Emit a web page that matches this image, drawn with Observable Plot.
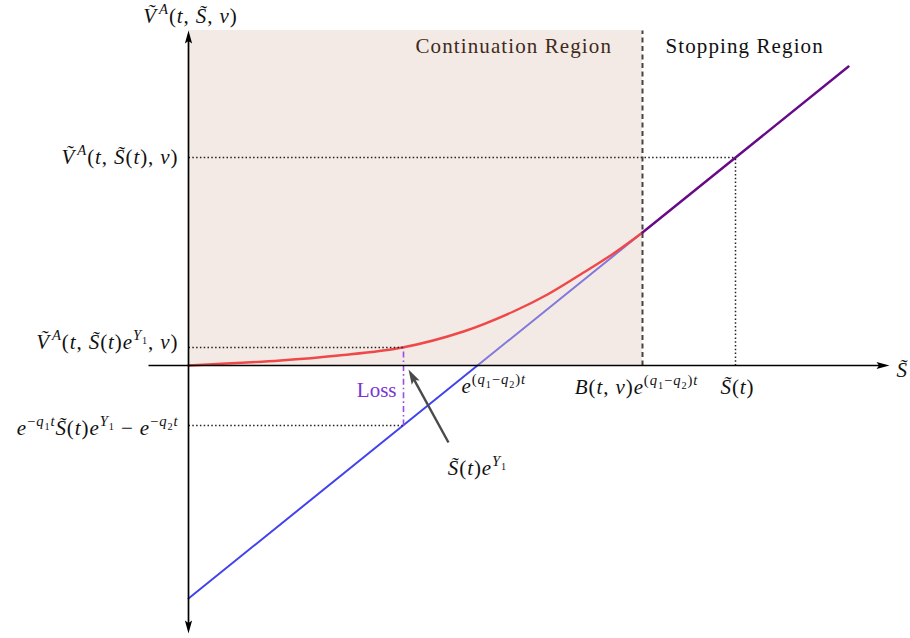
<!DOCTYPE html>
<html><head><meta charset="utf-8">
<script src="https://cdn.jsdelivr.net/npm/d3@7"></script>
<script src="https://cdn.jsdelivr.net/npm/@observablehq/plot@0.6"></script>
<style>body{margin:0;background:#fff}</style>
</head><body><div id="chart"></div>
<script>
// ---- data (abstract units: 1 unit = 100px) ----
const boundaryX = 4.54, boundaryY = 1.33;   // B(t,v)e^{(q1-q2)t}
const regionTop = 3.35;
const stockX = 5.47, stockV = 2.08;          // S~(t), V~A(t,S~(t),v)
const jumpX = 2.15, jumpV = 0.18, lossLow = -0.60;
const blueX = [0, 4.54];
const blueY = [-2.33, 1.33];
const purpleX = [4.54, 6.60];
const purpleY = [1.33, 2.99];
const redX = [0, 0.92, 1.5, 2.14, 2.75, 3.25, 3.59, 3.92, 4.25, 4.54];
const redY = [0, 0.05, 0.10, 0.18, 0.34, 0.54, 0.71, 0.91, 1.12, 1.33];
const yAxisEnds = [-2.68, 3.35];
const xAxisEnds = [-0.40, 7.01];
const annTail = [2.60, -0.77];
const annTip = [2.20, -0.04];

const labelText = [
  "V\u0303^{A}(t, S\u0303, v)",
  "V\u0303^{A}(t, S\u0303(t), v)",
  "V\u0303^{A}(t, S\u0303(t)e^{Y_{1}}, v)",
  "e^{−q_{1}t}S\u0303(t)e^{Y_{1}} − e^{−q_{2}t}",
  "e^{(q_{1}−q_{2})t}",
  "B(t, v)e^{(q_{1}−q_{2})t}",
  "S\u0303(t)",
  "S\u0303",
  "S\u0303(t)e^{Y_{1}}"
];
const labelX = [0.02, -0.10, -0.10, -0.10, 2.73, 4.48, 5.49, 7.08, 2.89];
const labelY = [3.49, 2.08, 0.23, -0.63, -0.21, -0.22, -0.22, -0.05, -1.03];
const labelAnchor = ["middle", "end", "end", "end", "start", "middle", "middle", "start", "middle"];

const regionText = ["Continuation Region", "Stopping Region"];
const regionTextX = [2.27, 4.77];
const regionTextY = [3.19, 3.19];

// ---- derived tables ----
const red = redX.map((x, i) => ({x, y: redY[i]}));
const blue = blueX.map((x, i) => ({x, y: blueY[i]}));
const purple = purpleX.map((x, i) => ({x, y: purpleY[i]}));
const labels = labelText.map((t, i) => ({t, x: labelX[i], y: labelY[i], a: labelAnchor[i]}));
const regions = regionText.map((t, i) => ({t, x: regionTextX[i], y: regionTextY[i]}));

const dotted = [
  {x1: 0, y1: jumpV, x2: jumpX, y2: jumpV},
  {x1: 0, y1: lossLow, x2: jumpX, y2: lossLow},
  {x1: 0, y1: stockV, x2: stockX, y2: stockV},
  {x1: stockX, y1: 0, x2: stockX, y2: stockV}
];

const headLen = 0.09;
const axes = [
  {x1: 0, y1: yAxisEnds[0] + headLen, x2: 0, y2: yAxisEnds[1] - headLen},
  {x1: xAxisEnds[0], y1: 0, x2: xAxisEnds[1] - headLen, y2: 0}
];
const heads = [
  {x: 0, y: yAxisEnds[1], r: 0},
  {x: 0, y: yAxisEnds[0], r: 180},
  {x: xAxisEnds[1], y: 0, r: 90}
];
const annAngle = Math.atan2(annTip[0] - annTail[0], annTip[1] - annTail[1]) * 180 / Math.PI;
const annFrac = 0.93;
const annLine = [{x1: annTail[0], y1: annTail[1],
  x2: annTail[0] + (annTip[0] - annTail[0]) * annFrac,
  y2: annTail[1] + (annTip[1] - annTail[1]) * annFrac}];

const arrowSym = {draw(ctx) { ctx.moveTo(0, 0); ctx.lineTo(3.6, 13); ctx.lineTo(0, 10.5); ctx.lineTo(-3.6, 13); ctx.closePath(); }};
const annSym = {draw(ctx) { ctx.moveTo(0, 0); ctx.lineTo(4.5, 15); ctx.lineTo(0, 12); ctx.lineTo(-4.5, 15); ctx.closePath(); }};

const serif = "'Liberation Serif', 'DejaVu Serif', serif";
const fs = 21;

const svg = Plot.plot({
  width: 910, height: 638,
  margin: 0,
  x: {domain: [-1.88, 7.22], axis: null},
  y: {domain: [-2.73, 3.65], axis: null},
  style: {background: "#fff"},
  marks: [
    Plot.line(blue, {x: "x", y: "y", stroke: "#4343ee", strokeWidth: 2}),
    Plot.rect([{x1: 0, x2: boundaryX, y1: 0, y2: regionTop}], {x1: "x1", x2: "x2", y1: "y1", y2: "y2", fill: "#e1cabe", fillOpacity: 0.4}),
    Plot.line(red, {x: "x", y: "y", stroke: "#f04848", strokeWidth: 2.4, curve: "catmull-rom"}),
    Plot.line(purple, {x: "x", y: "y", stroke: "#680a88", strokeWidth: 2.4}),
    Plot.link(dotted, {x1: "x1", y1: "y1", x2: "x2", y2: "y2", stroke: "#222", strokeWidth: 1.5, strokeDasharray: "1.5,2.3"}),
    Plot.link([{x1: jumpX, y1: lossLow, x2: jumpX, y2: jumpV}], {x1: "x1", y1: "y1", x2: "x2", y2: "y2", stroke: "#9b4be8", strokeWidth: 1.6, strokeDasharray: "6,3,1.6,3"}),
    Plot.link([{x1: boundaryX, y1: 0, x2: boundaryX, y2: regionTop}], {x1: "x1", y1: "y1", x2: "x2", y2: "y2", stroke: "#444", strokeWidth: 2, strokeDasharray: "5,3.5"}),
    Plot.link(axes, {x1: "x1", y1: "y1", x2: "x2", y2: "y2", stroke: "#000", strokeWidth: 1.7}),
    Plot.dot(heads, {x: "x", y: "y", rotate: "r", symbol: arrowSym, fill: "#000", stroke: "none"}),
    Plot.link(annLine, {x1: "x1", y1: "y1", x2: "x2", y2: "y2", stroke: "#4a4a4a", strokeWidth: 2.4}),
    Plot.dot([{x: annTip[0], y: annTip[1]}], {x: "x", y: "y", rotate: annAngle, symbol: annSym, fill: "#4a4a4a", stroke: "none"}),
    ...["start", "middle", "end"].map(a => Plot.text(labels.filter(d => d.a === a), {
      x: "x", y: "y", text: "t", textAnchor: a, lineAnchor: "middle",
      fontFamily: serif, fontSize: fs, fill: "#111"
    })),
    Plot.text([{t: "Loss", x: 2.08, y: -0.25}], {x: "x", y: "y", text: "t", textAnchor: "end", lineAnchor: "middle", fontFamily: serif, fontSize: fs, fill: "#7a35d6"}),
    Plot.text(regions.slice(0, 1), {x: "x", y: "y", text: "t", textAnchor: "start", lineAnchor: "middle", fontFamily: serif, fontSize: fs, fill: "#3f2a1c"}),
    Plot.text(regions.slice(1), {x: "x", y: "y", text: "t", textAnchor: "start", lineAnchor: "middle", fontFamily: serif, fontSize: fs, fill: "#111"})
  ]
});

// ---- math markup -> tspans (super/subscripts, italic letters) ----
function buildMath(el, str, base) {
  const segs = [];
  function parse(i, shift, size, inBrace) {
    while (i < str.length) {
      const c = str[i];
      if (c === "}" && inBrace) return i + 1;
      if ((c === "^" || c === "_") && str[i + 1] === "{") {
        const ns = Math.max(size * 0.7, 10);
        const nshift = c === "^" ? shift + size * 0.42 : shift - size * 0.22;
        const prev = segs[segs.length - 1];
        const startIdx = segs.length;
        i = parse(i + 2, nshift, ns, true);
        if (c === "^" && segs[startIdx] && prev && /[A-Z\u0303]/.test(prev.c)) segs[startIdx].dx = 2;
        continue;
      }
      const prev = segs[segs.length - 1];
      const it = /[A-Za-z]/.test(c) || (c === "\u0303" && prev && prev.it);
      segs.push({c, shift, size, it, dx: 0});
      i++;
    }
    return i;
  }
  parse(0, 0, base, false);
  const groups = [];
  for (const s of segs) {
    const g = groups[groups.length - 1];
    if (g && !s.dx && g.shift === s.shift && g.size === s.size && g.it === s.it) g.text += s.c;
    else groups.push({text: s.c, shift: s.shift, size: s.size, it: s.it, dx: s.dx});
  }
  el.textContent = "";
  let cur = 0;
  for (const g of groups) {
    const t = document.createElementNS("http://www.w3.org/2000/svg", "tspan");
    t.setAttribute("font-size", g.size);
    if (g.it) t.setAttribute("font-style", "italic");
    const d = cur - g.shift;
    if (d) t.setAttribute("dy", d);
    if (g.dx) t.setAttribute("dx", g.dx);
    cur = g.shift;
    t.textContent = g.text;
    el.appendChild(t);
  }
}
d3.select(svg).selectAll("text").each(function () {
  const s = this.textContent;
  if (/[\^_]\{|\u0303/.test(s)) {
    buildMath(this, s, fs);
    this.setAttribute("letter-spacing", "0.9");
  } else if (/Region/.test(s)) {
    this.setAttribute("letter-spacing", "1.1");
  }
});

document.getElementById("chart").appendChild(svg);
</script>
</body></html>
